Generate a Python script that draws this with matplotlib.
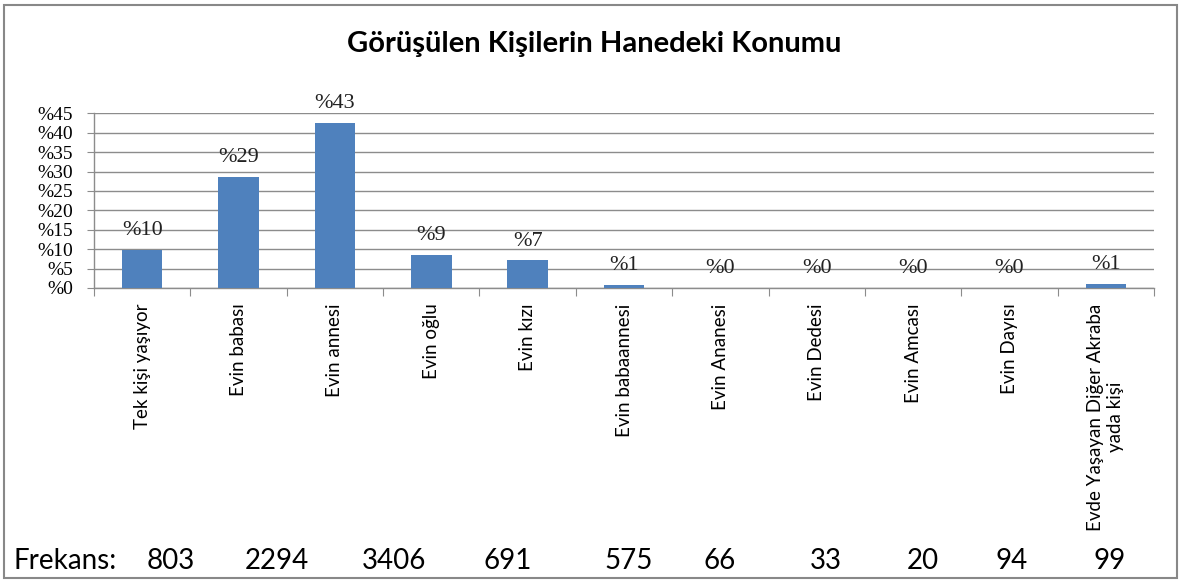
import matplotlib
matplotlib.use("Agg")

import numpy as np
import matplotlib.pyplot as plt
from matplotlib.patches import Rectangle

# ── Data ────────────────────────────────────────────────────────────
categories = [
    "Tek kişi yaşıyor", "Evin babası", "Evin annesi", "Evin oğlu",
    "Evin kızı", "Evin babaannesi", "Evin Ananesi", "Evin Dedesi",
    "Evin Amcası", "Evin Dayısı", "Evde Yaşayan Diğer Akraba\nyada kişi",
]
percents = [9.9, 28.6, 42.6, 8.6, 7.1, 0.7, 0.0, 0.0, 0.0, 0.0, 1.0]
frequencies = [803, 2294, 3406, 691, 575, 66, 33, 20, 94, 99]
y_ticks = [0, 5, 10, 15, 20, 25, 30, 35, 40, 45]

# pixel x-centres of the typed frequency row (not aligned to the bars)
freq_x_px = [171, 277, 394, 508, 629, 720, 826, 923, 1012, 1110]

W, H = 1182, 583
BAR_COLOR = "#4F81BD"
GRID_COLOR = "#8C8C8C"
SANS = "Lato"
SERIF = "Liberation Serif"

fig = plt.figure(figsize=(W / 100, H / 100), dpi=100)
ax = fig.add_axes([94 / W, 1 - 288 / H, (1154 - 94) / W, (288 - 113.3) / H])

x = np.arange(len(categories))
ax.bar(x, percents, width=0.42, color=BAR_COLOR, zorder=3)

for xi, v in zip(x, percents):
    ax.text(xi, v + 5.0, f"%{round(v)}", ha="center", va="center",
            fontsize=16, family=SERIF, color="#222222", zorder=4)

ax.set_xlim(-0.5, len(categories) - 0.5)
ax.set_ylim(0, 45)
ax.set_yticks(y_ticks)
ax.set_yticklabels([f"%{t}" for t in y_ticks], family=SERIF, fontsize=14)
ax.yaxis.grid(True, color=GRID_COLOR, linewidth=1.0, zorder=0)
ax.tick_params(axis="y", length=5, color=GRID_COLOR, pad=10)

# category ticks sit between bars, labels under bar centres
ax.set_xticks(np.arange(-0.5, len(categories), 1.0))
ax.set_xticklabels([])
ax.set_xticks(x, minor=True)
ax.set_xticklabels(categories, minor=True, rotation=90, ha="center", va="top",
                   family=SANS, fontsize=13.5, multialignment="center", color="black")
ax.tick_params(axis="x", which="major", length=6, color=GRID_COLOR)
ax.tick_params(axis="x", which="minor", length=0, pad=11)

for side in ("top", "right"):
    ax.spines[side].set_visible(False)
for side in ("left", "bottom"):
    ax.spines[side].set_color(GRID_COLOR)
    ax.spines[side].set_linewidth(1.0)

fig.text(594 / W, 1 - 44 / H, "Görüşülen Kişilerin Hanedeki Konumu",
         ha="center", va="center", fontsize=21, fontweight="bold", family=SANS)

# ── Frequency row ───────────────────────────────────────────────────
y_freq = 1 - 561 / H
fig.text(13 / W, y_freq, "Frekans:", ha="left", va="center", fontsize=20, family=SANS)
for px, f in zip(freq_x_px, frequencies):
    fig.text(px / W, y_freq, str(f), ha="center", va="center", fontsize=20, family=SANS)

# outer chart border
fig.patches.append(Rectangle((4 / W, 5 / H), (1177 - 4) / W, (579 - 6) / H,
                             transform=fig.transFigure, fill=False,
                             edgecolor="#888888", linewidth=1.5))

fig.savefig("out.png", dpi=100)
